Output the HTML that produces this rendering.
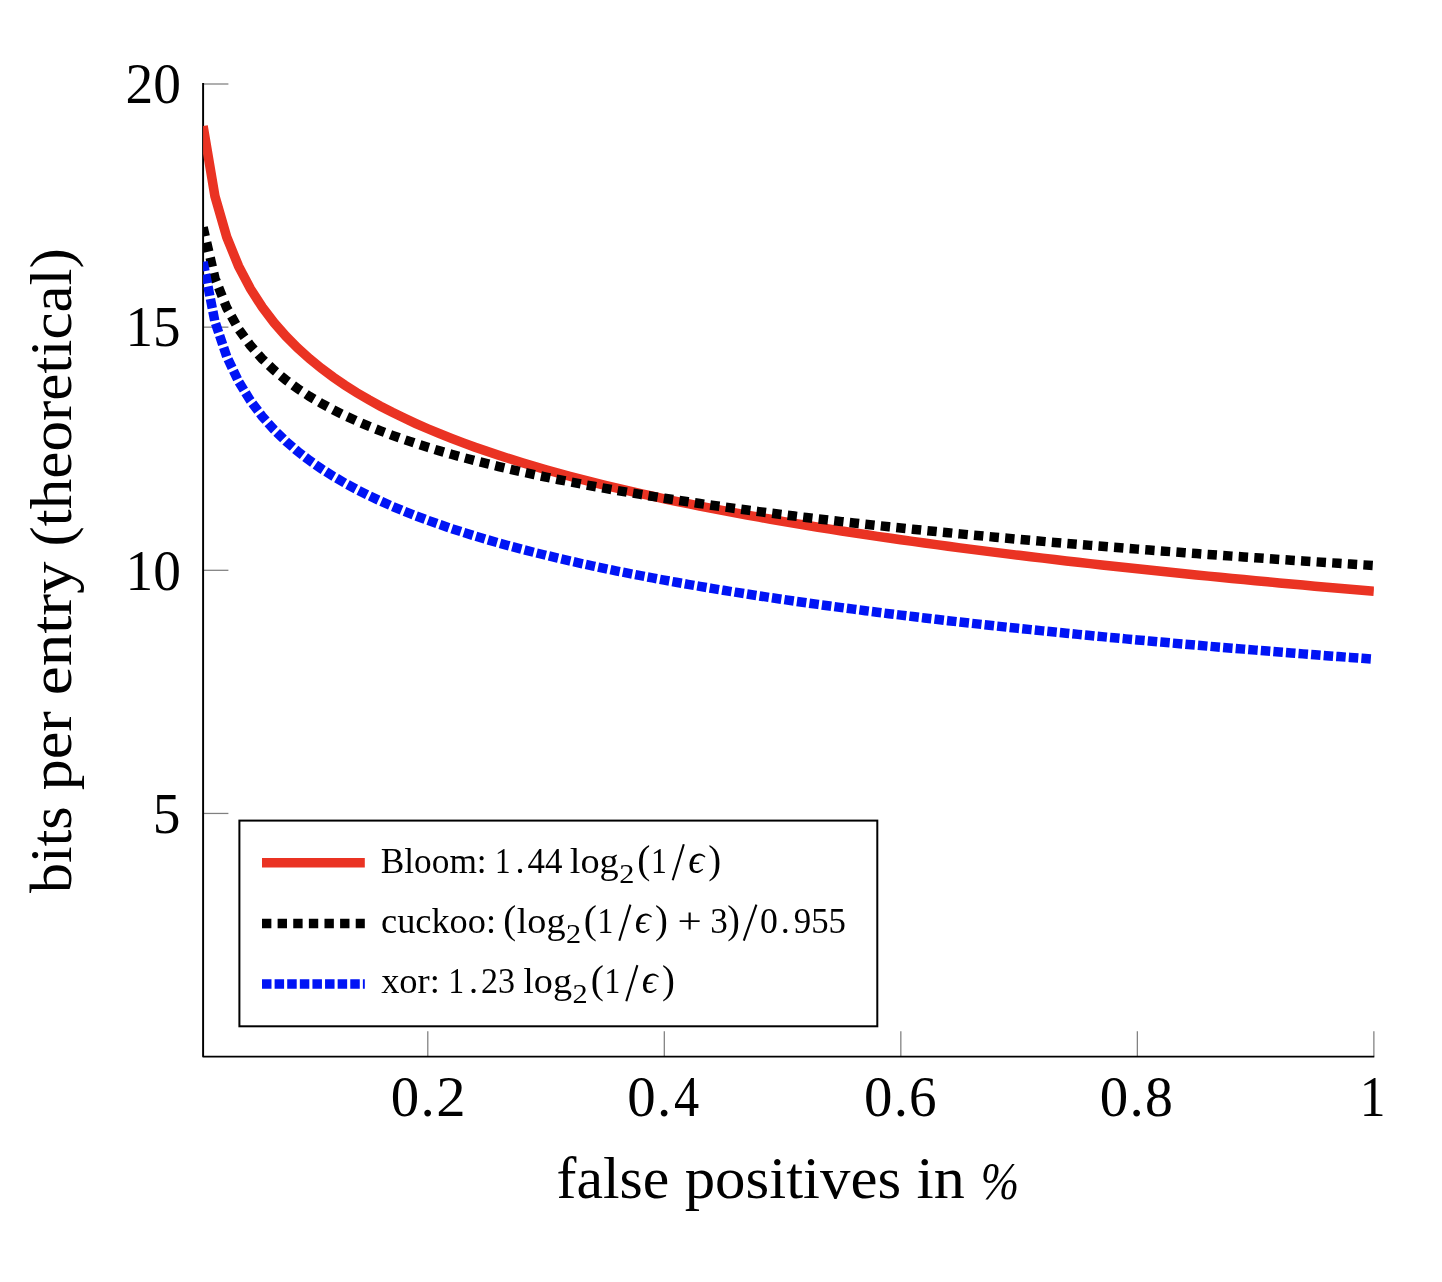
<!DOCTYPE html>
<html><head><meta charset="utf-8"><title>chart</title>
<style>
html,body{margin:0;padding:0;background:#fff;}
body{width:1442px;height:1282px;overflow:hidden;}
svg{display:block;}
text{font-family:"Liberation Serif",serif;fill:#000;}
</style></head><body>
<svg width="1442" height="1282" viewBox="0 0 1442 1282">
<rect x="0" y="0" width="1442" height="1282" fill="#fff"/>
<defs><clipPath id="c"><rect x="203.10" y="64.00" width="1170.80" height="992.60"/></clipPath></defs>

<line x1="427.79" y1="1056.60" x2="427.79" y2="1031.30" stroke="#808080" stroke-width="1.27"/>
<line x1="664.31" y1="1056.60" x2="664.31" y2="1031.30" stroke="#808080" stroke-width="1.27"/>
<line x1="900.83" y1="1056.60" x2="900.83" y2="1031.30" stroke="#808080" stroke-width="1.27"/>
<line x1="1137.35" y1="1056.60" x2="1137.35" y2="1031.30" stroke="#808080" stroke-width="1.27"/>
<line x1="1373.87" y1="1056.60" x2="1373.87" y2="1031.30" stroke="#808080" stroke-width="1.27"/>
<line x1="203.10" y1="813.45" x2="228.40" y2="813.45" stroke="#808080" stroke-width="1.27"/>
<line x1="203.10" y1="570.30" x2="228.40" y2="570.30" stroke="#808080" stroke-width="1.27"/>
<line x1="203.10" y1="327.15" x2="228.40" y2="327.15" stroke="#808080" stroke-width="1.27"/>
<line x1="203.10" y1="84.00" x2="228.40" y2="84.00" stroke="#808080" stroke-width="1.27"/>
<path d="M203.10 83.10 L203.10 1056.60 L1374.30 1056.60" fill="none" stroke="#000" stroke-width="1.95" stroke-linejoin="round"/>
<g clip-path="url(#c)" fill="none" stroke-width="9.49" stroke-linejoin="miter">
<path d="M203.10 126.10 L214.92 196.13 L226.75 237.09 L238.57 266.15 L250.40 288.70 L262.23 307.12 L274.05 322.69 L285.88 336.18 L297.70 348.08 L309.53 358.72 L321.36 368.35 L333.18 377.14 L345.01 385.23 L356.83 392.72 L368.66 399.69 L380.49 406.21 L392.31 412.33 L404.14 418.11 L415.96 423.57 L427.79 428.75 L439.62 433.68 L451.44 438.38 L463.27 442.87 L475.09 447.17 L486.92 451.29 L498.75 455.26 L510.57 459.07 L522.40 462.74 L534.22 466.29 L546.05 469.71 L557.88 473.03 L569.70 476.23 L581.53 479.34 L593.35 482.36 L605.18 485.29 L617.01 488.13 L628.83 490.90 L640.66 493.60 L652.48 496.22 L664.31 498.78 L676.14 501.27 L687.96 503.71 L699.79 506.08 L711.61 508.41 L723.44 510.68 L735.27 512.90 L747.09 515.07 L758.92 517.20 L770.74 519.28 L782.57 521.32 L794.40 523.32 L806.22 525.28 L818.05 527.21 L829.87 529.10 L841.70 530.95 L853.53 532.77 L865.35 534.56 L877.18 536.32 L889.00 538.04 L900.83 539.74 L912.66 541.41 L924.48 543.05 L936.31 544.67 L948.13 546.26 L959.96 547.83 L971.79 549.37 L983.61 550.89 L995.44 552.39 L1007.26 553.86 L1019.09 555.32 L1030.92 556.75 L1042.74 558.16 L1054.57 559.55 L1066.39 560.93 L1078.22 562.29 L1090.05 563.62 L1101.87 564.94 L1113.70 566.25 L1125.52 567.53 L1137.35 568.81 L1149.18 570.06 L1161.00 571.30 L1172.83 572.52 L1184.65 573.73 L1196.48 574.93 L1208.31 576.11 L1220.13 577.28 L1231.96 578.43 L1243.78 579.58 L1255.61 580.71 L1267.44 581.82 L1279.26 582.93 L1291.09 584.02 L1302.91 585.10 L1314.74 586.17 L1326.57 587.23 L1338.39 588.27 L1350.22 589.31 L1362.04 590.33 L1373.87 591.35" stroke="#EA3323"/>
<path d="M203.10 227.21 L214.92 278.13 L226.75 307.91 L238.57 329.05 L250.40 345.44 L262.23 358.84 L274.05 370.16 L285.88 379.97 L297.70 388.62 L309.53 396.36 L321.36 403.37 L333.18 409.76 L345.01 415.64 L356.83 421.08 L368.66 426.15 L380.49 430.89 L392.31 435.35 L404.14 439.54 L415.96 443.52 L427.79 447.28 L439.62 450.87 L451.44 454.29 L463.27 457.55 L475.09 460.68 L486.92 463.68 L498.75 466.56 L510.57 469.33 L522.40 472.00 L534.22 474.58 L546.05 477.07 L557.88 479.48 L569.70 481.81 L581.53 484.07 L593.35 486.27 L605.18 488.40 L617.01 490.47 L628.83 492.48 L640.66 494.44 L652.48 496.35 L664.31 498.21 L676.14 500.02 L687.96 501.79 L699.79 503.52 L711.61 505.21 L723.44 506.86 L735.27 508.47 L747.09 510.05 L758.92 511.60 L770.74 513.12 L782.57 514.60 L794.40 516.05 L806.22 517.48 L818.05 518.88 L829.87 520.25 L841.70 521.60 L853.53 522.92 L865.35 524.23 L877.18 525.50 L889.00 526.76 L900.83 527.99 L912.66 529.21 L924.48 530.40 L936.31 531.58 L948.13 532.73 L959.96 533.87 L971.79 535.00 L983.61 536.10 L995.44 537.19 L1007.26 538.26 L1019.09 539.32 L1030.92 540.36 L1042.74 541.39 L1054.57 542.40 L1066.39 543.40 L1078.22 544.39 L1090.05 545.36 L1101.87 546.32 L1113.70 547.27 L1125.52 548.20 L1137.35 549.13 L1149.18 550.04 L1161.00 550.94 L1172.83 551.83 L1184.65 552.71 L1196.48 553.58 L1208.31 554.44 L1220.13 555.29 L1231.96 556.13 L1243.78 556.96 L1255.61 557.78 L1267.44 558.59 L1279.26 559.40 L1291.09 560.19 L1302.91 560.98 L1314.74 561.75 L1326.57 562.52 L1338.39 563.28 L1350.22 564.04 L1362.04 564.78 L1373.87 565.52" stroke="#000" stroke-dasharray="9.37 6.25"/>
<path d="M203.10 261.80 L214.92 321.61 L226.75 356.60 L238.57 381.43 L250.40 400.68 L262.23 416.42 L274.05 429.72 L285.88 441.24 L297.70 451.41 L309.53 460.50 L321.36 468.72 L333.18 476.23 L345.01 483.14 L356.83 489.53 L368.66 495.49 L380.49 501.06 L392.31 506.29 L404.14 511.22 L415.96 515.89 L427.79 520.31 L439.62 524.52 L451.44 528.54 L463.27 532.37 L475.09 536.05 L486.92 539.57 L498.75 542.95 L510.57 546.21 L522.40 549.35 L534.22 552.38 L546.05 555.30 L557.88 558.13 L569.70 560.87 L581.53 563.53 L593.35 566.10 L605.18 568.60 L617.01 571.04 L628.83 573.40 L640.66 575.70 L652.48 577.94 L664.31 580.13 L676.14 582.26 L687.96 584.34 L699.79 586.37 L711.61 588.35 L723.44 590.29 L735.27 592.19 L747.09 594.04 L758.92 595.86 L770.74 597.64 L782.57 599.38 L794.40 601.09 L806.22 602.77 L818.05 604.41 L829.87 606.02 L841.70 607.61 L853.53 609.16 L865.35 610.69 L877.18 612.19 L889.00 613.67 L900.83 615.12 L912.66 616.54 L924.48 617.95 L936.31 619.33 L948.13 620.69 L959.96 622.02 L971.79 623.34 L983.61 624.64 L995.44 625.92 L1007.26 627.18 L1019.09 628.42 L1030.92 629.64 L1042.74 630.85 L1054.57 632.04 L1066.39 633.21 L1078.22 634.37 L1090.05 635.52 L1101.87 636.64 L1113.70 637.76 L1125.52 638.86 L1137.35 639.94 L1149.18 641.01 L1161.00 642.07 L1172.83 643.12 L1184.65 644.15 L1196.48 645.17 L1208.31 646.18 L1220.13 647.18 L1231.96 648.17 L1243.78 649.14 L1255.61 650.11 L1267.44 651.06 L1279.26 652.00 L1291.09 652.94 L1302.91 653.86 L1314.74 654.77 L1326.57 655.68 L1338.39 656.57 L1350.22 657.46 L1362.04 658.33 L1373.87 659.20" stroke="#0014F5" stroke-dasharray="9.49 3.12"/>
</g>
<rect x="239.4" y="820.6" width="637.90" height="205.70" fill="none" stroke="#000" stroke-width="2"/>
<line x1="262.00" y1="862.70" x2="364.80" y2="862.70" stroke="#EA3323" stroke-width="9.49"/>
<line x1="262.00" y1="923.40" x2="364.80" y2="923.40" stroke="#000" stroke-width="9.49" stroke-dasharray="9.37 6.25"/>
<line x1="262.00" y1="984.10" x2="364.80" y2="984.10" stroke="#0014F5" stroke-width="9.49" stroke-dasharray="9.49 3.12"/>
<g opacity="0.999">
<text transform="translate(125.44 102.90) scale(0.9845 1)" font-size="56.3">20</text>
<text transform="translate(125.50 345.85) scale(0.9796 1)" font-size="56.3">15</text>
<text transform="translate(125.48 589.90) scale(0.9837 1)" font-size="56.3">10</text>
<text transform="translate(152.80 832.75) scale(0.9846 1)" font-size="56.3">5</text>
<text transform="translate(390.73 1116.00) scale(1.0105 1)" font-size="56.3">0</text>
<text transform="translate(420.49 1116.00) scale(1.0154 1)" font-size="56.3">.</text>
<text transform="translate(436.29 1116.00) scale(1.0444 1)" font-size="56.3">2</text>
<text transform="translate(627.33 1116.00) scale(1.0105 1)" font-size="56.3">0</text>
<text transform="translate(657.09 1116.00) scale(1.0154 1)" font-size="56.3">.</text>
<text transform="translate(673.90 1116.00) scale(0.8952 1)" font-size="56.3">4</text>
<text transform="translate(863.93 1116.00) scale(1.0105 1)" font-size="56.3">0</text>
<text transform="translate(893.69 1116.00) scale(1.0154 1)" font-size="56.3">.</text>
<text transform="translate(908.95 1116.00) scale(0.9792 1)" font-size="56.3">6</text>
<text transform="translate(1099.83 1116.00) scale(1.0105 1)" font-size="56.3">0</text>
<text transform="translate(1129.59 1116.00) scale(1.0154 1)" font-size="56.3">.</text>
<text transform="translate(1145.07 1116.00) scale(0.9895 1)" font-size="56.3">8</text>
<text transform="translate(1359.72 1116.00) scale(0.9165 1)" font-size="56.3">1</text>
<text transform="translate(556.54 1198.30) scale(1.0069 1)" font-size="59.3">false</text>
<text transform="translate(684.67 1198.30) scale(1.0267 1)" font-size="59.3">positives</text>
<text transform="translate(916.49 1198.30) scale(1.0477 1)" font-size="59.3">in</text>
<text transform="translate(980.74 1199.30) scale(0.8859 1)" font-size="52" font-style="italic">%</text>
<text transform="translate(70.70 892.90) rotate(-90) scale(1.0108 1)" font-size="59.3">bits</text>
<text transform="translate(70.70 790.25) rotate(-90) scale(1.0465 1)" font-size="59.3">per</text>
<text transform="translate(70.70 695.27) rotate(-90) scale(1.0994 1)" font-size="59.3">entry</text>
<text transform="translate(70.70 546.47) rotate(-90) scale(1.0299 1)" font-size="59.3">(theoretical)</text>
<text transform="translate(380.69 872.50) scale(1.0094 1)" font-size="35">Bloom:</text>
<text transform="translate(495.04 872.50) scale(0.8880 1)" font-size="35">1</text>
<text transform="translate(515.57 872.50) scale(1.0353 1)" font-size="35">.</text>
<text transform="translate(527.55 872.50) scale(0.9985 1)" font-size="35">44</text>
<text transform="translate(569.78 872.50) scale(1.0960 1)" font-size="35">log</text>
<text transform="translate(619.26 882.50) scale(1.1524 1)" font-size="26.3">2</text>
<text transform="translate(637.20 872.50) scale(0.9714 1)" font-size="40.6">(</text>
<text transform="translate(650.99 872.50) scale(0.9040 1)" font-size="35">1</text>
<text transform="translate(688.13 872.50) scale(1.0159 1)" font-size="39" font-style="italic">ϵ</text>
<text transform="translate(708.31 872.50) scale(0.9524 1)" font-size="40.6">)</text>
<text transform="translate(381.00 932.90) scale(1.0389 1)" font-size="35">cuckoo:</text>
<text transform="translate(503.13 932.90) scale(0.9524 1)" font-size="40.6">(</text>
<text transform="translate(516.68 932.90) scale(1.0913 1)" font-size="35">log</text>
<text transform="translate(565.96 942.90) scale(1.1524 1)" font-size="26.3">2</text>
<text transform="translate(583.80 932.90) scale(0.9714 1)" font-size="40.6">(</text>
<text transform="translate(597.59 932.90) scale(0.9040 1)" font-size="35">1</text>
<text transform="translate(634.73 932.90) scale(1.0159 1)" font-size="39" font-style="italic">ϵ</text>
<text transform="translate(654.91 932.90) scale(0.9524 1)" font-size="40.6">)</text>
<text transform="translate(677.45 932.90) scale(1.2308 1)" font-size="35">+</text>
<text transform="translate(710.14 932.90) scale(1.0035 1)" font-size="35">3</text>
<text transform="translate(727.23 932.90) scale(0.9333 1)" font-size="40.6">)</text>
<text transform="translate(759.93 932.90) scale(1.0200 1)" font-size="35">0</text>
<text transform="translate(780.67 932.90) scale(1.0353 1)" font-size="35">.</text>
<text transform="translate(793.76 932.90) scale(0.9930 1)" font-size="35">955</text>
<text transform="translate(381.14 993.40) scale(1.0423 1)" font-size="35">xor:</text>
<text transform="translate(448.44 993.40) scale(0.8880 1)" font-size="35">1</text>
<text transform="translate(468.97 993.40) scale(1.0353 1)" font-size="35">.</text>
<text transform="translate(481.04 993.40) scale(0.9719 1)" font-size="35">23</text>
<text transform="translate(523.18 993.40) scale(1.0913 1)" font-size="35">log</text>
<text transform="translate(572.56 1003.40) scale(1.1524 1)" font-size="26.3">2</text>
<text transform="translate(590.80 993.40) scale(0.9714 1)" font-size="40.6">(</text>
<text transform="translate(604.59 993.40) scale(0.9040 1)" font-size="35">1</text>
<text transform="translate(641.73 993.40) scale(1.0159 1)" font-size="39" font-style="italic">ϵ</text>
<text transform="translate(661.91 993.40) scale(0.9524 1)" font-size="40.6">)</text>
</g>
<line x1="672.70" y1="880.30" x2="683.80" y2="844.20" stroke="#000" stroke-width="2.1"/>
<line x1="619.30" y1="940.70" x2="630.40" y2="904.60" stroke="#000" stroke-width="2.1"/>
<line x1="626.30" y1="1001.20" x2="637.40" y2="965.10" stroke="#000" stroke-width="2.1"/>
<line x1="743.80" y1="940.70" x2="756.40" y2="904.60" stroke="#000" stroke-width="2.1"/>
</svg></body></html>
